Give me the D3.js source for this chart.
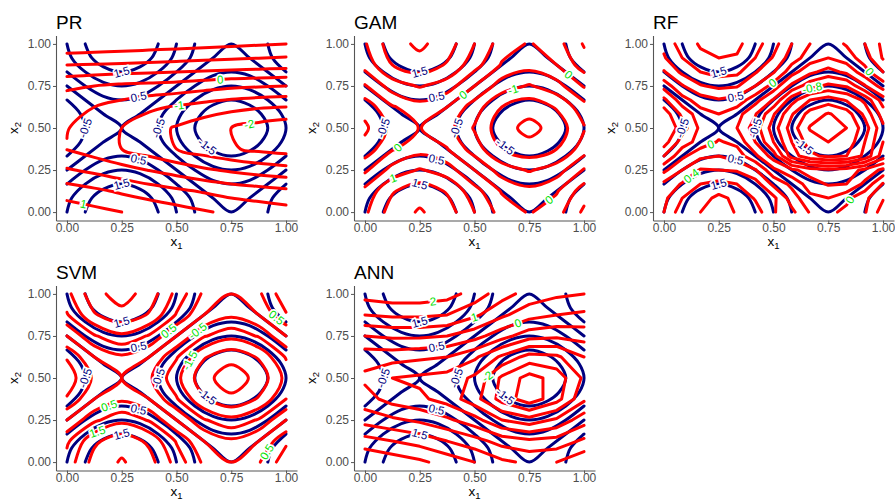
<!DOCTYPE html>
<html>
<head>
<meta charset="utf-8">
<script src="https://cdn.jsdelivr.net/npm/d3@7"></script>
<style>
  body { margin: 0; background: #fff; }
  svg { display: block; font-family: "Liberation Sans", Arial, sans-serif; }
</style>
</head>
<body>
<script>
// ---------- data ----------
const panelNames = ['PR', 'GAM', 'RF', 'SVM', 'ANN'];
const tickValues = [0, 0.25, 0.5, 0.75, 1];
const tickLabels = ['0.00', '0.25', '0.50', '0.75', '1.00'];

// true surface on a 13 x 13 grid; rows go x2 = 0 -> 1, columns x1 = 0 -> 1
const trueGrid = [
  [1, 1.5, 1.87, 2, 1.87, 1.5, 1, 0.5, 0.13, 0, 0.13, 0.5, 1],
  [0.87, 1.37, 1.73, 1.87, 1.73, 1.37, 0.87, 0.37, 0, -0.13, 0, 0.37, 0.87],
  [0.5, 1, 1.37, 1.5, 1.37, 1, 0.5, 0, -0.37, -0.5, -0.37, 0, 0.5],
  [0, 0.5, 0.87, 1, 0.87, 0.5, 0, -0.5, -0.87, -1, -0.87, -0.5, 0],
  [-0.5, 0, 0.37, 0.5, 0.37, 0, -0.5, -1, -1.37, -1.5, -1.37, -1, -0.5],
  [-0.87, -0.37, 0, 0.13, 0, -0.37, -0.87, -1.37, -1.73, -1.87, -1.73, -1.37, -0.87],
  [-1, -0.5, -0.13, 0, -0.13, -0.5, -1, -1.5, -1.87, -2, -1.87, -1.5, -1],
  [-0.87, -0.37, 0, 0.13, 0, -0.37, -0.87, -1.37, -1.73, -1.87, -1.73, -1.37, -0.87],
  [-0.5, 0, 0.37, 0.5, 0.37, 0, -0.5, -1, -1.37, -1.5, -1.37, -1, -0.5],
  [0, 0.5, 0.87, 1, 0.87, 0.5, 0, -0.5, -0.87, -1, -0.87, -0.5, 0],
  [0.5, 1, 1.37, 1.5, 1.37, 1, 0.5, 0, -0.37, -0.5, -0.37, 0, 0.5],
  [0.87, 1.37, 1.73, 1.87, 1.73, 1.37, 0.87, 0.37, 0, -0.13, 0, 0.37, 0.87],
  [1, 1.5, 1.87, 2, 1.87, 1.5, 1, 0.5, 0.13, 0, 0.13, 0.5, 1]
];
const trueLevels = [-1.5, -1, -0.5, 0, 0.5, 1, 1.5];
const trueLabelLevels = [-1.5, -0.5, 0.5, 1.5];

// fitted surfaces, 9 x 9 grids (RF 13 x 13); rows x2 = 0 -> 1
const prGrid = [
  [1.3, 1.15, 1.0, 0.85, 0.7, 0.55, 0.4, 0.3, 0.2],
  [0.75, 0.6, 0.42, 0.25, 0.1, -0.05, -0.2, -0.3, -0.4],
  [0.05, -0.12, -0.32, -0.52, -0.72, -0.92, -1.08, -1.22, -1.32],
  [-0.52, -0.75, -1.0, -1.25, -1.5, -1.75, -1.95, -2.1, -2.2],
  [-0.48, -0.7, -1.0, -1.3, -1.55, -1.8, -2.0, -2.2, -2.35],
  [-0.35, -0.5, -0.7, -0.9, -1.05, -1.2, -1.35, -1.45, -1.5],
  [0.1, 0.0, -0.1, -0.15, -0.2, -0.3, -0.4, -0.45, -0.5],
  [1.0, 0.97, 0.94, 0.9, 0.86, 0.82, 0.78, 0.74, 0.7],
  [1.9, 1.85, 1.8, 1.75, 1.7, 1.65, 1.6, 1.55, 1.5]
];
const prLevels = [-2, -1.5, -1, -0.5, 0, 0.5, 1, 1.5];
const prLabelLevels = [-2, -1, 0, 1];

const gamGrid = [
  [0.9, 1.75, 2.05, 1.75, 1.0, 0.3, -0.05, 0.3, 1.1],
  [0.65, 1.45, 1.8, 1.45, 0.7, -0.05, -0.35, -0.05, 0.75],
  [-0.1, 0.7, 1.05, 0.75, 0.0, -0.75, -1.05, -0.75, 0.05],
  [-0.8, -0.05, 0.3, 0.02, -0.75, -1.5, -1.8, -1.5, -0.75],
  [-1.1, -0.35, 0.02, -0.3, -1.05, -1.8, -2.15, -1.8, -1.05],
  [-0.8, -0.05, 0.3, 0.0, -0.75, -1.5, -1.8, -1.45, -0.7],
  [-0.05, 0.75, 1.05, 0.75, 0.0, -0.75, -1.05, -0.7, 0.05],
  [0.7, 1.5, 1.8, 1.45, 0.7, -0.05, -0.3, 0.0, 0.75],
  [0.95, 1.8, 2.1, 1.75, 1.0, 0.25, -0.05, 0.3, 1.05]
];
const gamLevels = [-2, -1.5, -1, -0.5, 0, 0.5, 1, 1.5, 2];
const gamLabelLevels = [-2, -1, 0, 1, 2];

const rfGrid = [
  [0.4, 0.72, 0.8, 0.9, 0.78, 0.7, 0.42, 0.25, -0.02, -0.05, 0.05, 0.18, 0.5],
  [0.35, 0.6, 0.72, 0.85, 0.75, 0.58, 0.45, 0.1, -0.15, -0.2, -0.05, 0.15, 0.38],
  [0.25, 0.42, 0.6, 0.66, 0.6, 0.5, 0.15, -0.05, -0.3, -0.42, -0.4, -0.15, 0.22],
  [-0.05, 0.2, 0.42, 0.4, 0.38, 0.22, -0.15, -0.35, -0.5, -0.55, -0.5, -0.35, -0.15],
  [-0.4, -0.05, 0.15, 0.2, 0.1, -0.15, -0.5, -1.1, -1.35, -1.45, -1.4, -1.15, -0.7],
  [-0.7, -0.3, -0.12, 0.02, -0.05, -0.4, -0.8, -1.2, -1.5, -1.6, -1.55, -1.2, -0.8],
  [-0.8, -0.5, -0.15, -0.1, -0.2, -0.5, -0.9, -1.3, -1.62, -1.7, -1.6, -1.3, -0.85],
  [-0.72, -0.35, -0.08, 0.0, -0.12, -0.38, -0.78, -1.18, -1.48, -1.62, -1.5, -1.15, -0.7],
  [-0.45, -0.08, 0.1, 0.18, 0.12, -0.12, -0.42, -0.92, -1.2, -1.3, -1.18, -0.95, -0.5],
  [-0.12, 0.18, 0.38, 0.45, 0.42, 0.2, -0.08, -0.45, -0.72, -0.85, -0.78, -0.42, -0.1],
  [0.18, 0.45, 0.6, 0.68, 0.65, 0.42, 0.22, -0.12, -0.35, -0.48, -0.35, -0.08, 0.2],
  [0.38, 0.6, 0.76, 0.8, 0.78, 0.6, 0.38, 0.1, -0.1, -0.2, -0.1, 0.1, 0.42],
  [0.45, 0.7, 0.82, 0.88, 0.85, 0.68, 0.48, 0.2, 0.0, -0.1, 0.02, 0.2, 0.45]
];
const rfLevels = [-1.6, -1.4, -1.2, -1, -0.8, -0.6, -0.4, -0.2, 0, 0.2, 0.4, 0.6, 0.8];
const rfLabelLevels = [-1.6, -1.2, -0.8, -0.4, 0, 0.4, 0.8];

const svmGrid = [
  [1.2, 2.2, 2.55, 2.2, 1.3, 0.4, 0.0, 0.45, 1.3],
  [0.9, 1.9, 2.3, 1.9, 0.95, 0.0, -0.4, 0.0, 0.9],
  [0.0, 0.9, 1.35, 0.95, 0.0, -0.95, -1.35, -0.95, 0.0],
  [-0.95, 0.0, 0.4, 0.0, -0.95, -1.95, -2.4, -1.95, -1.0],
  [-1.3, -0.4, 0.0, -0.4, -1.35, -2.35, -2.75, -2.35, -1.35],
  [-0.95, 0.0, 0.4, 0.0, -0.95, -1.95, -2.35, -1.95, -0.95],
  [0.0, 0.95, 1.4, 0.95, 0.0, -0.95, -1.35, -0.95, 0.0],
  [0.95, 1.95, 2.35, 1.95, 0.95, 0.0, -0.4, 0.0, 0.95],
  [1.35, 2.35, 2.7, 2.3, 1.35, 0.4, 0.0, 0.4, 1.35]
];
const svmLevels = [-2.5, -2, -1.5, -1, -0.5, 0, 0.5, 1, 1.5, 2, 2.5];
const svmLabelLevels = [-2.5, -1.5, -0.5, 0.5, 1.5, 2.5];

const annGrid = [
  [2.0, 1.8, 1.6, 1.3, 1.0, 0.6, 0.4, 0.5, 0.9],
  [1.2, 1.0, 0.8, 0.5, 0.2, -0.2, -0.4, -0.3, 0.1],
  [0.3, 0.1, -0.1, -0.4, -0.8, -1.5, -1.8, -1.4, -0.7],
  [-0.3, -0.7, -0.9, -1.2, -1.8, -2.7, -3.3, -2.7, -1.6],
  [-0.6, -1.0, -1.1, -1.2, -1.6, -2.6, -3.2, -2.8, -1.9],
  [-0.3, -0.3, -0.4, -0.5, -0.9, -1.6, -2.2, -2.1, -1.5],
  [0.5, 0.6, 0.6, 0.5, 0.2, -0.3, -0.8, -0.9, -0.8],
  [1.5, 1.6, 1.6, 1.5, 1.1, 0.6, 0.2, 0.0, -0.1],
  [2.2, 2.3, 2.3, 2.2, 1.8, 1.2, 0.8, 0.6, 0.5]
];
const annLevels = [-3, -2.5, -2, -1.5, -1, -0.5, 0, 0.5, 1, 1.5, 2];
const annLabelLevels = [-3, -2, -1, 0, 1, 2];

const fits = [
  { grid: prGrid, levels: prLevels, labels: prLabelLevels },
  { grid: gamGrid, levels: gamLevels, labels: gamLabelLevels },
  { grid: rfGrid, levels: rfLevels, labels: rfLabelLevels },
  { grid: svmGrid, levels: svmLevels, labels: svmLabelLevels },
  { grid: annGrid, levels: annLevels, labels: annLabelLevels }
];

// ---------- layout ----------
const W = 895, H = 499;
const panelW = 241, panelH = 185;
const colLeft = [56, 354, 653];
const rowTop = [35.5, 285.5];
const polygonal = ['RF', 'ANN'];

const svg = d3.select('body').append('svg')
  .attr('width', W).attr('height', H);

// contour rings -> open/closed lines, dropping the pieces that run along the grid border
const isolines = (grid, levels) => {
  const ny = grid.length, nx = grid[0].length;
  const onEdge = p => p[0] <= 0 || p[0] >= nx || p[1] <= 0 || p[1] >= ny;
  const toData = p => [(p[0] - 0.5) / (nx - 1), (p[1] - 0.5) / (ny - 1)];
  const out = [];
  d3.contours().size([nx, ny]).thresholds(levels)(grid.flat()).forEach(c => {
    c.coordinates.forEach(poly => poly.forEach(ring => {
      let pts = ring.slice();
      const a = pts[0], b = pts[pts.length - 1];
      if (pts.length > 1 && a[0] === b[0] && a[1] === b[1]) pts.pop();
      const k = pts.findIndex(onEdge);
      if (k < 0) {
        out.push({ level: c.value, closed: true, pts: pts.map(toData) });
        return;
      }
      pts = pts.slice(k).concat(pts.slice(0, k));
      let run = [];
      const flush = () => {
        if (run.length > 1) out.push({ level: c.value, closed: false, pts: run.map(toData) });
        run = [];
      };
      pts.forEach(p => { if (onEdge(p)) flush(); else run.push(p); });
      flush();
    }));
  });
  return out;
};

const fmt = v => String(+v.toFixed(1));

const drawPanel = (idx) => {
  const name = panelNames[idx];
  const left = colLeft[idx % 3], top = rowTop[Math.floor(idx / 3)];
  const x = d3.scaleLinear().domain([-0.05, 1.05]).range([left, left + panelW]);
  const y = d3.scaleLinear().domain([-0.05, 1.05]).range([top + panelH, top]);
  const g = svg.append('g');

  const clipId = 'clip' + idx;
  svg.append('clipPath').attr('id', clipId)
    .append('rect').attr('x', left).attr('y', top).attr('width', panelW).attr('height', panelH);
  const plot = g.append('g').attr('clip-path', `url(#${clipId})`);

  const toPx = l => {
    const px = [];
    l.pts.forEach(p => {
      const q = [x(p[0]), y(p[1])];
      const last = px[px.length - 1];
      if (!last || Math.hypot(q[0] - last[0], q[1] - last[1]) > 0.4) px.push(q);
    });
    return px;
  };

  const drawLines = (lines, color, linear) => {
    lines.forEach(l => {
      const px = toPx(l);
      if (px.length < 2) return;
      let curve;
      if (linear) curve = l.closed ? d3.curveLinearClosed : d3.curveLinear;
      else curve = l.closed ? d3.curveCatmullRomClosed.alpha(0.5) : d3.curveCatmullRom.alpha(0.5);
      plot.append('path')
        .attr('d', d3.line().curve(curve)(px))
        .attr('fill', 'none')
        .attr('stroke', color)
        .attr('stroke-width', 3)
        .attr('stroke-linejoin', 'round')
        .attr('stroke-linecap', 'round');
    });
  };

  const placed = [];
  const drawLabels = (lines, labelLevels, color, frac) => {
    lines.forEach(l => {
      if (!labelLevels.some(v => Math.abs(v - l.level) < 1e-6)) return;
      const px = toPx(l);
      if (px.length < 2) return;
      const cum = [0];
      for (let i = 1; i < px.length; i++) {
        cum.push(cum[i - 1] + Math.hypot(px[i][0] - px[i - 1][0], px[i][1] - px[i - 1][1]));
      }
      const total = cum[cum.length - 1];
      if (total < 40) return;
      const target = total * frac;
      let i = 1;
      while (i < px.length - 1 && cum[i] < target) i++;
      const t = (target - cum[i - 1]) / ((cum[i] - cum[i - 1]) || 1);
      const p = [px[i - 1][0] + t * (px[i][0] - px[i - 1][0]), px[i - 1][1] + t * (px[i][1] - px[i - 1][1])];
      if (placed.some(q => Math.hypot(q[0] - p[0], q[1] - p[1]) < 24)) return;
      placed.push(p);
      let ang = Math.atan2(px[i][1] - px[i - 1][1], px[i][0] - px[i - 1][0]) * 180 / Math.PI;
      if (ang > 90) ang -= 180;
      if (ang < -90) ang += 180;
      g.append('text')
        .attr('transform', `translate(${p[0]},${p[1]}) rotate(${ang})`)
        .attr('dy', '0.35em')
        .attr('text-anchor', 'middle')
        .style('font-size', '11.5px')
        .style('paint-order', 'stroke')
        .attr('stroke', '#fff')
        .attr('stroke-width', 3.5)
        .attr('fill', color)
        .text(fmt(l.level));
    });
  };

  const truthLines = isolines(trueGrid, trueLevels);
  const fit = fits[idx];
  const fitLines = isolines(fit.grid, fit.levels);

  drawLines(truthLines, '#000080', false);
  drawLines(fitLines, '#ff0000', polygonal.includes(name));
  drawLabels(truthLines, trueLabelLevels, '#000080', 0.5);
  drawLabels(fitLines, fit.labels, '#00e000', 0.3);

  // axes
  const xAxis = d3.axisBottom(x).tickValues(tickValues)
    .tickFormat((d, i) => tickLabels[i]).tickSize(3).tickSizeOuter(0).tickPadding(0);
  const yAxis = d3.axisLeft(y).tickValues(tickValues)
    .tickFormat((d, i) => tickLabels[i]).tickSize(3).tickSizeOuter(0).tickPadding(2);

  const gx = g.append('g').attr('transform', `translate(0,${top + panelH})`).call(xAxis);
  const gy = g.append('g').attr('transform', `translate(${left},0)`).call(yAxis);
  [gx, gy].forEach(a => {
    a.select('.domain').attr('stroke', '#555').attr('stroke-width', 1.1);
    a.selectAll('.tick line').attr('stroke', '#555');
    a.selectAll('.tick text')
      .attr('fill', '#4d4d4d')
      .style('font-size', '12px')
      .style('font-family', '"Liberation Sans", Arial, sans-serif');
  });

  // titles
  g.append('text')
    .attr('x', left).attr('y', top - 7)
    .style('font-size', '19px').attr('fill', '#000')
    .text(name);

  const xt = g.append('text')
    .attr('x', left + panelW / 2).attr('y', top + panelH + 25.5)
    .attr('text-anchor', 'middle')
    .style('font-size', '13.5px').attr('fill', '#000');
  xt.append('tspan').text('x');
  xt.append('tspan').attr('dy', 2.5).style('font-size', '9.5px').text('1');

  const yt = g.append('text')
    .attr('transform', `translate(${left - 38},${top + panelH / 2}) rotate(-90)`)
    .attr('text-anchor', 'middle')
    .style('font-size', '13.5px').attr('fill', '#000');
  yt.append('tspan').text('x');
  yt.append('tspan').attr('dy', 2.5).style('font-size', '9.5px').text('2');
};

panelNames.forEach((n, i) => drawPanel(i));
</script>
</body>
</html>
